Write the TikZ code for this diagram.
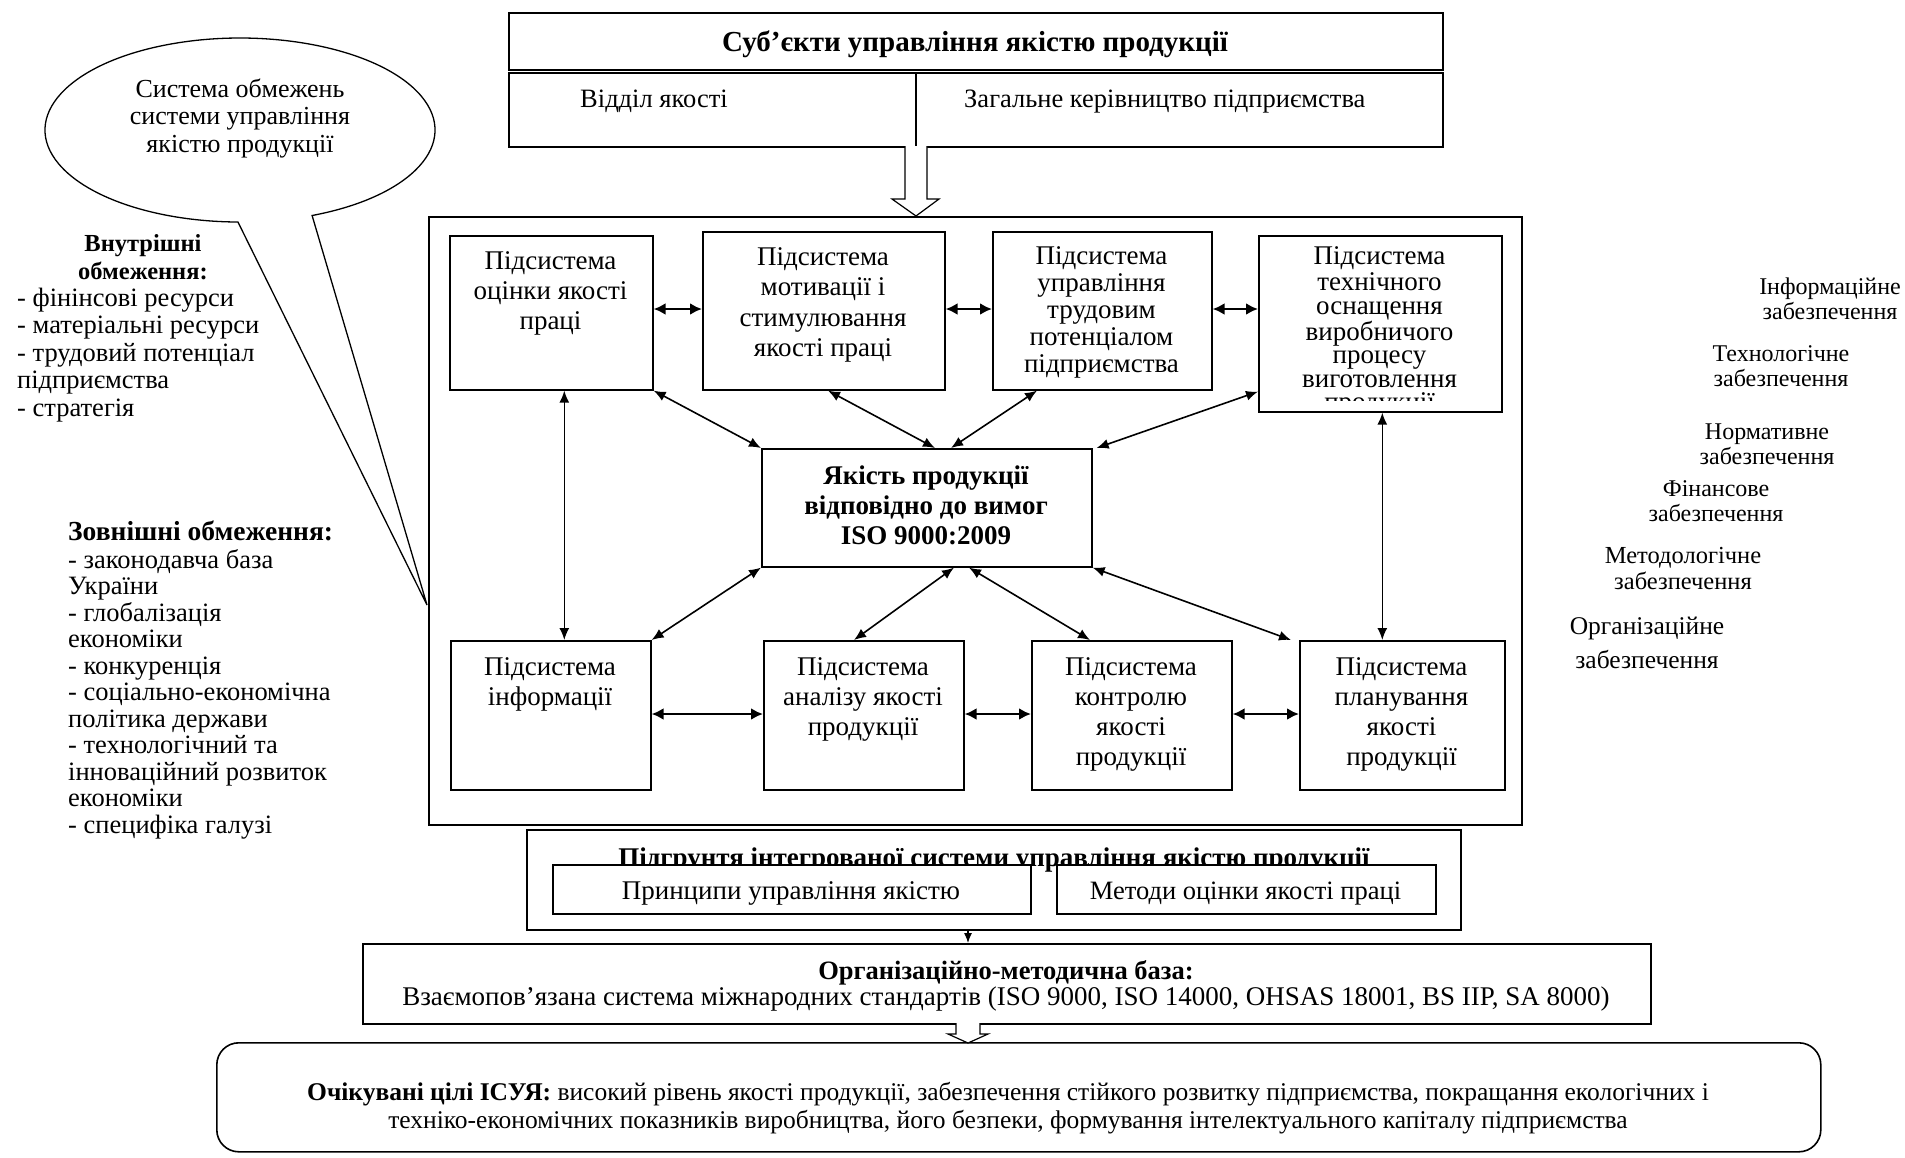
\documentclass[tikz,border=0pt]{standalone}
\usepackage{fontspec}
\setmainfont{Liberation Serif}
\usetikzlibrary{arrows.meta}
\begin{document}
\begin{tikzpicture}[x=1pt,y=-1pt,
 box/.style={draw, line width=1.6pt, inner sep=0pt, fill=white, anchor=north west},
 tx/.style={inner sep=0pt, align=center},
 lt/.style={inner sep=0pt, align=left},
 dbl/.style={{Latex[length=12pt,width=10pt]}-{Latex[length=12pt,width=10pt]}, line width=1.6pt},
 hdbl/.style={{Latex[length=12pt,width=12pt]}-{Latex[length=12pt,width=12pt]}, line width=2.4pt},
 hollow/.style={draw, line width=1.2pt, fill=white},
 bxf/.style={font=\fontsize{27}{30}\selectfont},
]
\useasboundingbox (0,0) rectangle (1905,1157);

% speech bubble
\draw[line width=1.3pt, fill=white] (312.1,215.5) arc[start angle=-68.3, end angle=269.4, x radius=195pt, y radius=92pt] -- (427,605) -- cycle;
\node[tx, anchor=north, font=\fontsize{26}{27.5}\selectfont] (bub) at (240,77.75) {\strut Система обмежень\\системи управління\\якістю продукції};

% left texts
\node[tx, anchor=north, font=\bfseries\fontsize{24.5}{28}\selectfont] (inthead) at (143,231.4) {\strut Внутрішні\\обмеження:};
\node[lt, anchor=north west, font=\fontsize{26.5}{27.5}\selectfont] (intlist) at (17,286.75) {\strut- фінінсові ресурси\\- матеріальні ресурси\\- трудовий потенціал\\підприємства\\- стратегія};
\node[lt, anchor=north west, font=\fontsize{26.5}{26.5}\selectfont] (ext) at (68,520.45) {\strut{\bfseries\fontsize{27.5}{26.5}\selectfont Зовнішні обмеження:}\\- законодавча база\\України\\- глобалізація\\економіки\\- конкуренція\\- соціально-економічна\\політика держави\\- технологічний та\\інноваційний розвиток\\економіки\\- специфіка галузі};

% right texts
\node[tx, anchor=north, font=\fontsize{24}{25}\selectfont] (r1) at (1830,276.5) {\strut Інформаційне\\забезпечення};
\node[tx, anchor=north, font=\fontsize{24}{23}\selectfont] (r2) at (1781,344.9) {\strut Технологічне\\забезпечення};
\node[tx, anchor=north, font=\fontsize{24}{24}\selectfont] (r3) at (1767,422.2) {\strut Нормативне\\забезпечення};
\node[tx, anchor=north, font=\fontsize{24}{23}\selectfont] (r4) at (1716,479.9) {\strut Фінансове\\забезпечення};
\node[tx, anchor=north, font=\fontsize{24.5}{25}\selectfont] (r5) at (1683,545.5) {\strut Методологічне\\забезпечення};
\node[tx, anchor=north, font=\fontsize{25.5}{34}\selectfont] (r6) at (1647,610.2) {\strut Організаційне\\забезпечення};

% subjects
\node[box, minimum width=934pt, minimum height=57pt] (subj) at (508,12) {};
\node[inner sep=0pt, anchor=base, font=\bfseries\fontsize{29}{30}\selectfont] (subjt) at (975,51) {Суб’єкти управління якістю продукції};
\node[box, minimum width=934pt, minimum height=74pt] (subjlow) at (508,72) {};
\draw[line width=1.2pt] (916,72) -- (916,146);
\node[inner sep=0pt, anchor=base west, font=\fontsize{26.5}{30}\selectfont] (dept) at (580,107) {Відділ якості};
\node[inner sep=0pt, anchor=base west, font=\fontsize{26.5}{30}\selectfont] (mgmt) at (964,107) {Загальне керівництво підприємства};

% main box
\node[box, line width=2pt, minimum width=1093pt, minimum height=608pt] (main) at (428,216) {};
\draw[hollow] (905,146) -- (905,199) -- (892,199) -- (916,216) -- (939,199) -- (927,199) -- (927,146);

% subsystem boxes
\node[box, minimum width=203pt, minimum height=154pt] (t1) at (449,235) {};
\node[box, minimum width=242pt, minimum height=158pt] (t2) at (702,231) {};
\node[box, minimum width=219pt, minimum height=158pt] (t3) at (992,231) {};
\node[box, minimum width=243pt, minimum height=176pt] (t4) at (1258,235) {};
\node[box, minimum width=330pt, minimum height=118pt] (c) at (761,448) {};
\node[box, minimum width=200pt, minimum height=149pt] (b1) at (450,640) {};
\node[box, minimum width=200pt, minimum height=149pt] (b2) at (763,640) {};
\node[box, minimum width=200pt, minimum height=149pt] (b3) at (1031,640) {};
\node[box, minimum width=205pt, minimum height=149pt] (b4) at (1299,640) {};

\node[tx, anchor=north, bxf] (t1t) at (550.5,248) {\strut Підсистема\\оцінки якості\\праці};
\node[tx, anchor=north, font=\fontsize{27}{30.5}\selectfont] (t2t) at (823,243.65) {\strut Підсистема\\мотивації і\\стимулювання\\якості праці};
\node[tx, anchor=north, font=\fontsize{27}{27}\selectfont] (t3t) at (1101.5,245.1) {\strut Підсистема\\управління\\трудовим\\потенціалом\\підприємства};
\begin{scope}
\clip (1258,235) rectangle (1501,400);
\node[tx, anchor=north, font=\fontsize{27}{23.5}\selectfont] (t4t) at (1379.5,246.55) {\strut Підсистема\\технічного\\оснащення\\виробничого\\процесу\\виготовлення\\продукції};
\end{scope}
\node[tx, anchor=north, font=\bfseries\fontsize{27}{30}\selectfont] (ct) at (926,463) {\strut Якість продукції\\відповідно до вимог\\ISO 9000:2009};
\node[tx, anchor=north, bxf] (b1t) at (550,654) {\strut Підсистема\\інформації};
\node[tx, anchor=north, bxf] (b2t) at (863,654) {\strut Підсистема\\аналізу якості\\продукції};
\node[tx, anchor=north, bxf] (b3t) at (1131,654) {\strut Підсистема\\контролю\\якості\\продукції};
\node[tx, anchor=north, bxf] (b4t) at (1401.5,654) {\strut Підсистема\\планування\\якості\\продукції};

% arrows
\coordinate (ytop) at (0,309);
\coordinate (ybot) at (0,714);
\draw[hdbl] (t1.east |- ytop) -- (t2.west |- ytop);
\draw[hdbl] (t2.east |- ytop) -- (t3.west |- ytop);
\draw[hdbl] (t3.east |- ytop) -- (t4.west |- ytop);
\draw[hdbl] (b1.east |- ybot) -- (b2.west |- ybot);
\draw[hdbl] (b2.east |- ybot) -- (b3.west |- ybot);
\draw[hdbl] (b3.east |- ybot) -- (b4.west |- ybot);
\draw[dbl] ([xshift=13pt]t1.south) -- ([xshift=13pt]t1.south |- b1.north);
\draw[dbl] ([xshift=2pt]t4.south) -- ([xshift=2pt]t4.south |- b4.north);
\draw[dbl] (t1.south east) -- (c.north west);
\draw[dbl] ([xshift=126pt]t2.south west) -- ([xshift=174pt]c.north west);
\draw[dbl] ([xshift=45pt]t3.south west) -- ([xshift=190pt]c.north west);
\draw[dbl] ([yshift=21pt]t4.south west) -- ([xshift=4pt]c.north east);
\draw[dbl] (c.south west) -- (b1.north east);
\draw[dbl] ([xshift=193pt]c.south west) -- ([xshift=91pt]b2.north west);
\draw[dbl] ([xshift=208pt]c.south west) -- ([xshift=59pt]b3.north west);
\draw[dbl] (c.south east) -- ([xshift=-8pt]b4.north west);

% foundation
\node[box, minimum width=934pt, minimum height=100pt] (pg) at (526,829) {};
\node[inner sep=0pt, anchor=base, font=\bfseries\fontsize{27}{30}\selectfont] (pgt) at (994,866) {Підгрунтя інтегрованої системи управління якістю продукції};
\node[box, minimum width=478pt, minimum height=49pt] (p1) at (552,864) {};
\node[box, minimum width=379pt, minimum height=49pt] (p2) at (1056,864) {};
\node[inner sep=0pt, anchor=base, font=\fontsize{27}{30}\selectfont] (p1t) at (791,899) {Принципи управління якістю};
\node[inner sep=0pt, anchor=base, font=\fontsize{26.5}{30}\selectfont] (p2t) at (1245.5,899) {Методи оцінки якості праці};

% org base
\node[box, minimum width=1288pt, minimum height=80pt] (org) at (362,943) {};
\node[inner sep=0pt, anchor=base, font=\bfseries\fontsize{26.5}{30}\selectfont] (orgt) at (1006,979) {Організаційно-методична база:};
\node[inner sep=0pt, anchor=base, font=\fontsize{27}{30}\selectfont] (orgs) at (1006,1005) {Взаємопов’язана система міжнародних стандартів (ISO 9000, ISO 14000, OHSAS 18001, BS IIP, SA 8000)};
\coordinate (xa) at (968,0);
\draw[-{Latex[length=10pt,width=8pt]}, line width=1.2pt] (pg.south -| xa) -- (org.north -| xa);

% goals
\node[box, rounded corners=22pt, minimum width=1604pt, minimum height=109pt] (goal) at (216,1042) {};
\draw[hollow] (956,1023) -- (956,1034) -- (948,1034) -- (968,1043) -- (988,1034) -- (980,1034) -- (980,1023);
\node[tx, anchor=north, font=\fontsize{25.5}{28}\selectfont] (goalt) at (1008,1080.4) {\strut\textbf{Очікувані цілі ІСУЯ:} високий рівень якості продукції, забезпечення стійкого розвитку підприємства, покращання екологічних і\\техніко-економічних показників виробництва, його безпеки, формування інтелектуального капіталу підприємства};
\end{tikzpicture}
\end{document}
